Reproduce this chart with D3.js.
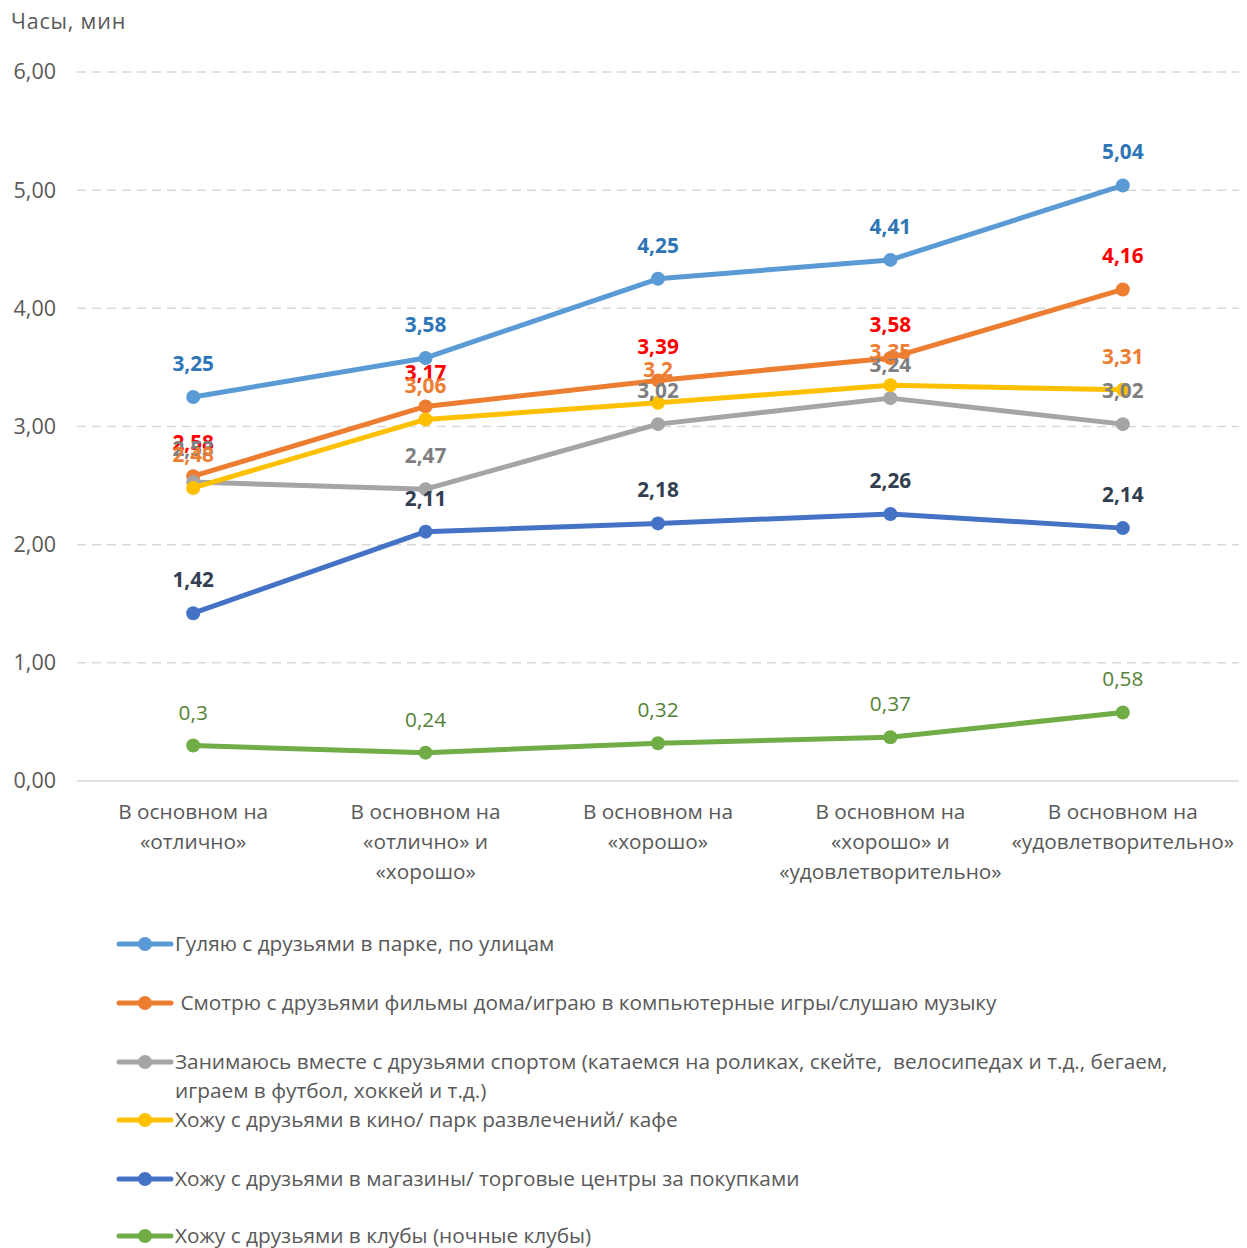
<!DOCTYPE html>
<html><head><meta charset="utf-8">
<script src="https://cdn.jsdelivr.net/npm/d3@7"></script>
<style>body{margin:0;background:#fff;} svg{display:block;font-family:"Open Sans","Noto Sans",sans-serif;}</style>
</head><body>
<svg id="c" width="1247" height="1248"></svg>
<script>
const categories = [
  ["В основном на","«отлично»"],
  ["В основном на","«отлично» и","«хорошо»"],
  ["В основном на","«хорошо»"],
  ["В основном на","«хорошо» и","«удовлетворительно»"],
  ["В основном на","«удовлетворительно»"]
];
const yTicks = [0,1,2,3,4,5,6];
const seriesNames = [
  ["Гуляю с друзьями в парке, по улицам"],
  [" Смотрю с друзьями фильмы дома/играю в компьютерные игры/слушаю музыку"],
  ["Занимаюсь вместе с друзьями спортом (катаемся на роликах, скейте,  велосипедах и т.д., бегаем,","играем в футбол, хоккей и т.д.)"],
  ["Хожу с друзьями в кино/ парк развлечений/ кафе"],
  ["Хожу с друзьями в магазины/ торговые центры за покупками"],
  ["Хожу с друзьями в клубы (ночные клубы)"]
];
const walkPark   = [3.25, 3.58, 4.25, 4.41, 5.04];
const watchHome  = [2.58, 3.17, 3.39, 3.58, 4.16];
const sport      = [2.53, 2.47, 3.02, 3.24, 3.02];
const cinema     = [2.48, 3.06, 3.2, 3.35, 3.31];
const shopping   = [1.42, 2.11, 2.18, 2.26, 2.14];
const clubs      = [0.3, 0.24, 0.32, 0.37, 0.58];
const seriesValues = [walkPark, watchHome, sport, cinema, shopping, clubs];
const lineColors  = ["#5B9BD5","#ED7D31","#A5A5A5","#FFC000","#4472C4","#70AD47"];
const labelColors = ["#2E75B6","#FF0000","#7F7F7F","#ED7D31","#333F50","#548235"];
const labelWeights = ["bold","bold","bold","bold","bold","normal"];

const FS = 20.8;
const svg = d3.select("#c");
const fmt = v => String(v).replace(".", ",");
const x = d3.scaleBand().domain(d3.range(categories.length)).range([77, 1239]);
const y = d3.scaleLinear().domain([0, 6]).range([781, 72]);
const cx = i => x(i) + x.bandwidth()/2;

// title
svg.append("text").attr("x", 11).attr("y", 29).attr("fill", "#595959")
  .attr("font-size", 21.5).attr("letter-spacing", 0.8).text("Часы, мин");

// y axis
const yAxis = d3.axisLeft(y).tickValues(yTicks).tickFormat(d => d3.format(".2f")(d).replace(".", ",")).tickSize(0).tickPadding(21);
const ga = svg.append("g").attr("transform", "translate(77,0)").call(yAxis);
ga.select(".domain").remove();
ga.selectAll("text").attr("fill", "#595959").attr("font-size", 21.5).attr("font-family", "Open Sans");
svg.append("g").selectAll("line").data(yTicks).join("line")
  .attr("x1", 77).attr("x2", 1239)
  .attr("y1", d => y(d)).attr("y2", d => y(d))
  .attr("stroke", "#D9D9D9").attr("stroke-width", 1.5)
  .attr("stroke-dasharray", d => d === 0 ? null : "9,6");

// x labels
const xl = svg.append("g");
categories.forEach((lines, i) => {
  const t = xl.append("text").attr("text-anchor", "middle").attr("fill", "#595959").attr("font-size", FS);
  lines.forEach((l, j) => t.append("tspan").attr("x", cx(i)).attr("y", 819 + j*30).text(l));
});

// lines
const line = d3.line().x((d, i) => cx(i)).y(d => y(d));
seriesValues.forEach((vals, s) => {
  const g = svg.append("g");
  g.append("path").datum(vals).attr("d", line).attr("fill", "none")
    .attr("stroke", lineColors[s]).attr("stroke-width", 5).attr("stroke-linecap", "round").attr("stroke-linejoin", "round");
  g.selectAll("circle").data(vals).join("circle")
    .attr("cx", (d, i) => cx(i)).attr("cy", d => y(d)).attr("r", 7).attr("fill", lineColors[s]);
});
// labels
seriesValues.forEach((vals, s) => {
  svg.append("g").selectAll("text").data(vals).join("text")
    .attr("x", (d, i) => cx(i)).attr("y", d => y(d) - 26)
    .attr("text-anchor", "middle").attr("font-size", FS)
    .attr("font-weight", labelWeights[s]).attr("fill", labelColors[s])
    .text(d => fmt(d));
});

// legend
const legY = [944, 1003, 1062, 1120, 1179, 1236];
seriesNames.forEach((lines, s) => {
  const g = svg.append("g").attr("transform", `translate(0,${legY[s]})`);
  g.append("line").attr("x1", 119).attr("x2", 171).attr("y1", 0).attr("y2", 0)
    .attr("stroke", lineColors[s]).attr("stroke-width", 5).attr("stroke-linecap", "round");
  g.append("circle").attr("cx", 145).attr("cy", 0).attr("r", 7).attr("fill", lineColors[s]);
  const t = g.append("text").attr("fill", "#595959").attr("font-size", FS).attr("xml:space", "preserve").style("white-space", "pre");
  lines.forEach((l, j) => t.append("tspan").attr("x", 175).attr("y", 7 + j*29).text(l));
});
</script>
</body></html>
